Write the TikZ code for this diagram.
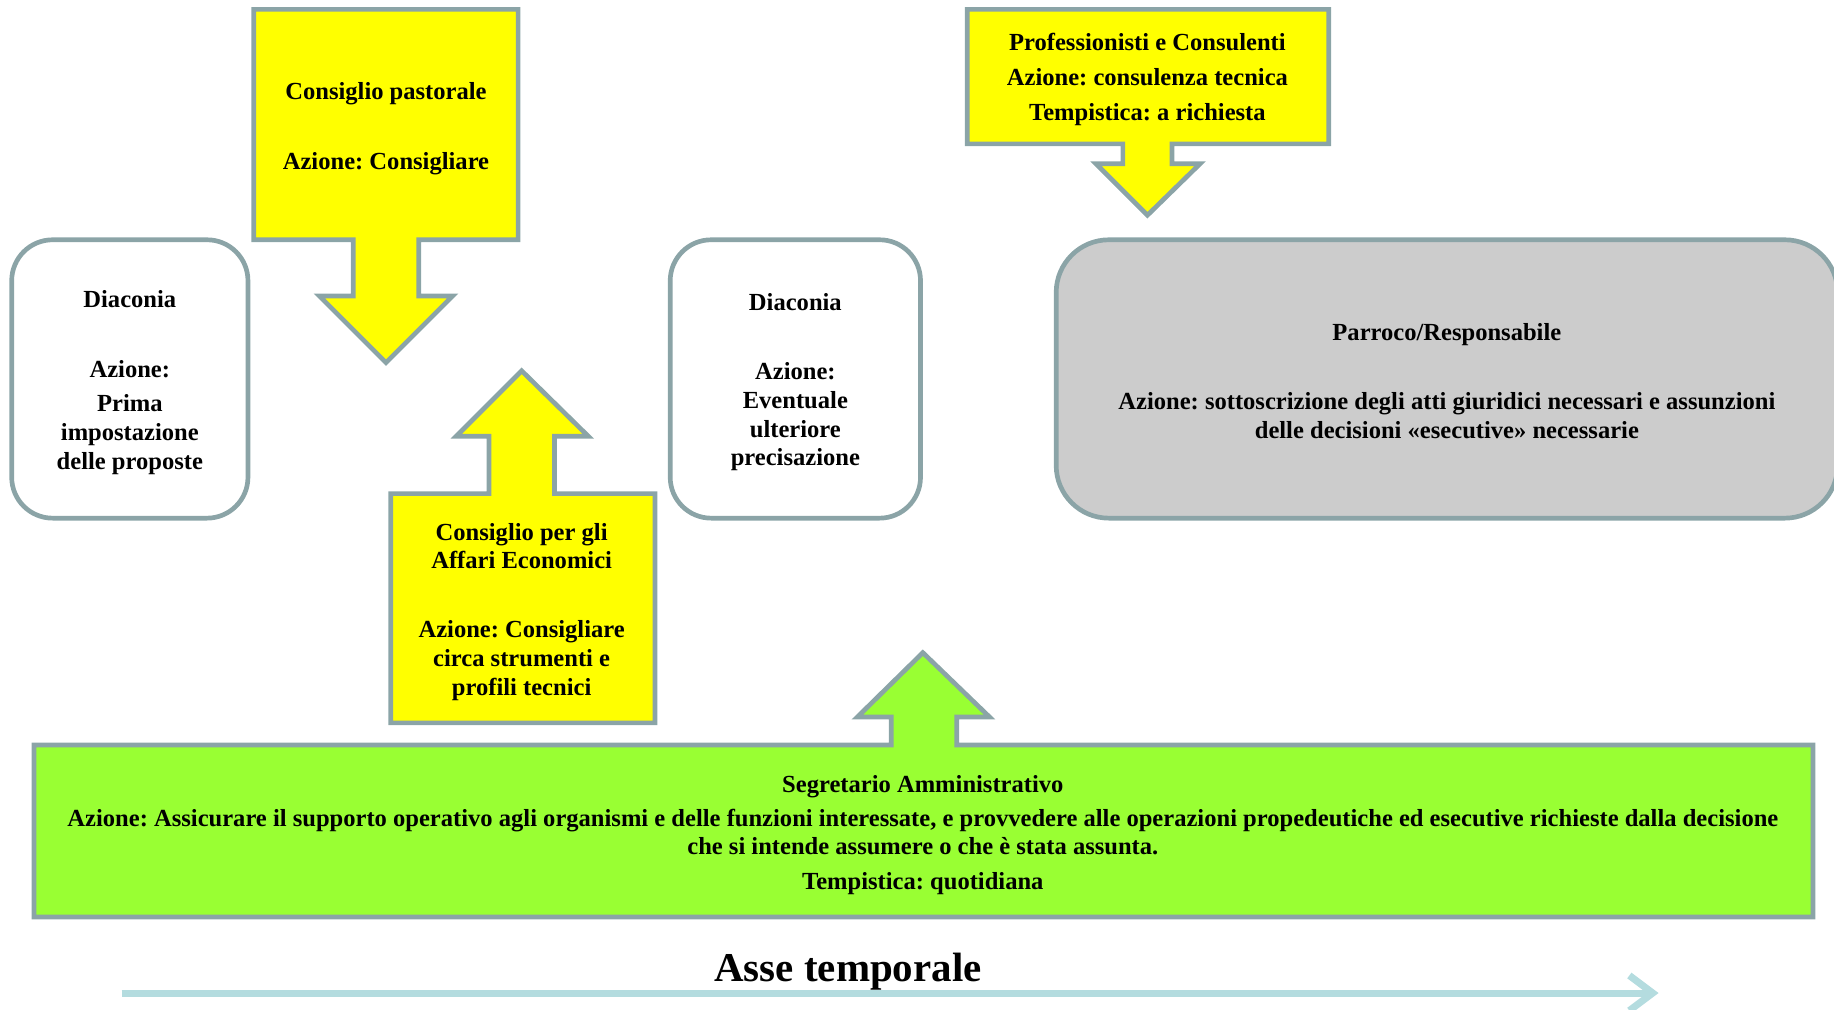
\documentclass[tikz,border=0pt]{standalone}
\usepackage{fontspec}
\setmainfont{Liberation Serif}
\usetikzlibrary{arrows.meta}
\frenchspacing
\definecolor{bord}{HTML}{8BA4A7}
\definecolor{yel}{HTML}{FFFF00}
\definecolor{grn}{HTML}{99FF33}
\definecolor{gry}{HTML}{CCCCCC}
\definecolor{axis}{HTML}{B4DCDF}
\tikzset{
  shapebox/.style={draw=bord,line width=2pt,line join=miter},
  roundbox/.style={draw=bord,line width=2pt,fill=white},
  lbl/.style={align=center,inner sep=0pt,font=\frenchspacing\fontsize{10.5}{12.25}\selectfont\bfseries},
}
\begin{document}
\begin{tikzpicture}[x=0.5pt,y=-0.5pt]
\useasboundingbox (0,0) rectangle (1568,863);
\begin{scope}
\clip (0,0) rectangle (1568,863);
% Diaconia 1
\draw[roundbox,rounded corners=17.5pt] (10,205) rectangle (212,443);
\node[lbl] (diac1) at (111,327) {Diaconia\\[17.75pt]Azione:\\[2.25pt]Prima\\impostazione\\delle proposte};
% Consiglio pastorale
\draw[shapebox,fill=yel] (217,8) -- (443,8) -- (443,205) -- (358,205) -- (358,253) -- (387,253) -- (330,310) -- (273,253) -- (302,253) -- (302,205) -- (217,205) -- cycle;
\node[lbl] (past) at (330,110) {Consiglio pastorale\\[17.75pt]Azione: Consigliare};
% Consiglio Affari Economici
\draw[shapebox,fill=yel] (334,422) -- (418,422) -- (418,373) -- (390,373) -- (446,317) -- (503,373) -- (474,373) -- (474,422) -- (560,422) -- (560,618) -- (334,618) -- cycle;
\node[lbl] (cae) at (446,523) {Consiglio per gli\\Affari Economici\\[17.25pt]Azione: Consigliare\\circa strumenti e\\profili tecnici};
% Diaconia 2
\draw[roundbox,rounded corners=17.5pt] (573,205) rectangle (787,443);
\node[lbl] (diac2) at (680,327) {Diaconia\\[17.25pt]Azione:\\Eventuale\\ulteriore\\precisazione};
% Professionisti
\draw[shapebox,fill=yel] (827,8) -- (1136,8) -- (1136,123) -- (1002,123) -- (1002,140) -- (1026,140) -- (981,184) -- (937,140) -- (960,140) -- (960,123) -- (827,123) -- cycle;
\node[lbl] (prof) at (981,68) {Professionisti e Consulenti\\[2.75pt]Azione: consulenza tecnica\\[2.75pt]Tempistica: a richiesta};
% Parroco
\draw[roundbox,fill=gry,rounded corners=22.5pt] (903,205) rectangle (1571,443);
\node[lbl] (parr) at (1237,326) {Parroco/Responsabile\\[17.25pt]Azione: sottoscrizione degli atti giuridici necessari e assunzioni\\delle decisioni «esecutive» necessarie};
% Segretario
\draw[shapebox,fill=grn] (29,637) -- (762,637) -- (762,613) -- (733,613) -- (789,558) -- (846,613) -- (818,613) -- (818,637) -- (1550,637) -- (1550,784) -- (29,784) -- cycle;
\node[lbl] (segr) at (789,714) {Segretario Amministrativo\\[2.25pt]Azione: Assicurare il supporto operativo agli organismi e delle funzioni interessate, e provvedere alle operazioni propedeutiche ed esecutive richieste dalla decisione\\che si intende assumere o che è stata assunta.\\[2.75pt]Tempistica: quotidiana};
% Axis
\node[inner sep=0pt,font=\fontsize{17.5}{20}\selectfont\bfseries] (asse) at (725,831) {Asse temporale};
\coordinate (a0) at (104,849);
\coordinate (a1) at (1418,849);
\draw[axis,line width=3pt,-{Straight Barb[length=10pt,width=15pt]}] (a0) -- (a1);
\end{scope}
\end{tikzpicture}
\end{document}
